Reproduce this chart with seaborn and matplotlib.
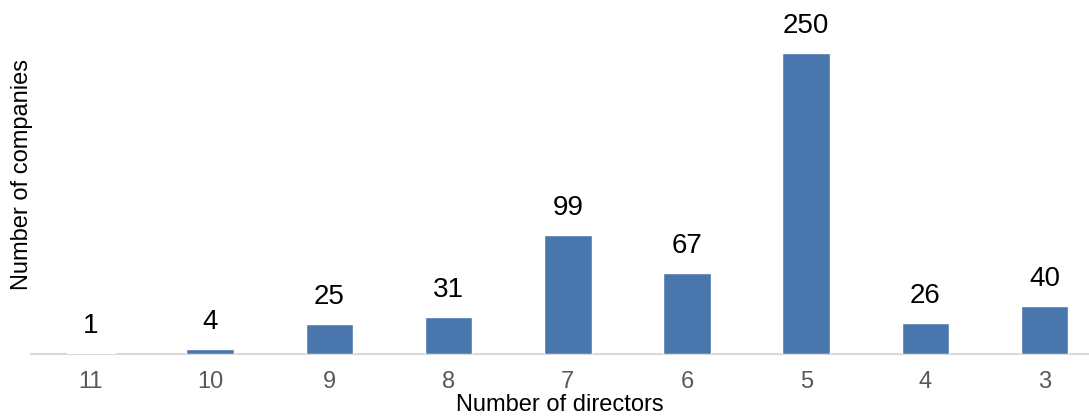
import matplotlib
matplotlib.use("Agg")
import matplotlib.pyplot as plt
import seaborn as sns
import pandas as pd

# dados
diretores = ["11", "10", "9", "8", "7", "6", "5", "4", "3"]
empresas = [1, 4, 25, 31, 99, 67, 250, 26, 40]

df = pd.DataFrame({"diretores": diretores, "empresas": empresas})

sns.set_theme(style="white")
plt.rcParams["font.family"] = ["Liberation Sans", "DejaVu Sans"]

fig = plt.figure(figsize=(10.89, 4.17), dpi=100)
ax = fig.add_axes([31.4 / 1089, 63 / 417, (1089 - 31.4) / 1089, 354 / 417])

sns.barplot(data=df, x="diretores", y="empresas", order=diretores,
            color="#4a76ae", width=0.4, saturation=1, ax=ax, zorder=3)

for i, v in enumerate(empresas):
    ax.annotate(str(v), (i, v), xytext=(0, 10), textcoords="offset points",
                ha="center", va="bottom", fontsize=20, color="black")

ax.set_xlim(-0.5, (1089 - 31.4) / 119.2 - 0.5)
ax.set_ylim(0, 294)
ax.set_yticks([])
for s in ["top", "right", "left"]:
    ax.spines[s].set_visible(False)
ax.spines["bottom"].set_color("#d9d9d9")
ax.spines["bottom"].set_linewidth(1.5)
ax.spines["bottom"].set_zorder(1)
ax.tick_params(axis="x", length=0, pad=12, labelsize=17, labelcolor="#595959")

# rótulo do eixo x encostado na borda inferior, como no original
ax.set_xlabel("Number of directors", fontsize=17, color="black", va="bottom")
ax.xaxis.set_label_coords(0.5, -0.175)
ax.set_ylabel("Number of companies", fontsize=17, color="black", va="center")
ax.yaxis.set_label_coords(-0.009, 0.506)

fig.savefig("out.png", dpi=100)
plt.close()
